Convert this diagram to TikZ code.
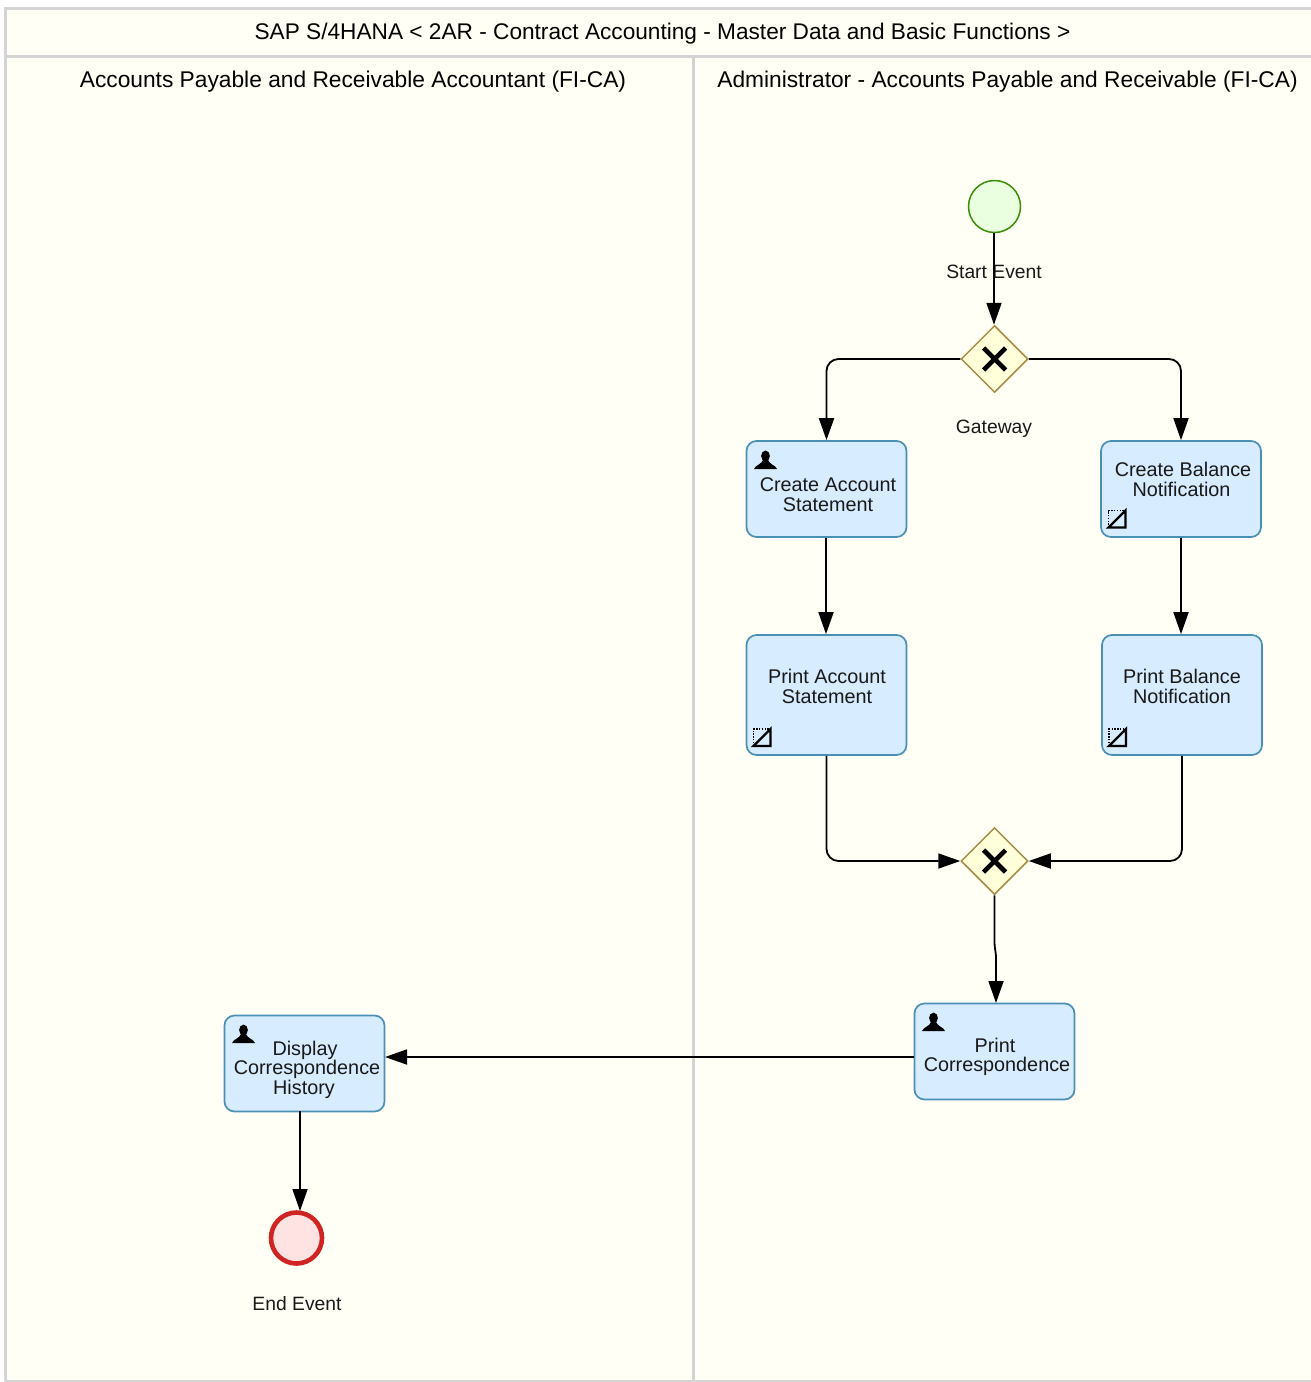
\documentclass[tikz,border=0pt]{standalone}
\usepackage{fontspec}
\setmainfont{Liberation Sans}
\usetikzlibrary{arrows.meta,shapes.geometric,calc}
\definecolor{pagebg}{HTML}{FFFFF6}
\definecolor{lanegray}{HTML}{D4D4D4}
\definecolor{taskfill}{HTML}{D7ECFE}
\definecolor{taskline}{HTML}{4A90B5}
\definecolor{gwfill}{HTML}{FFFFDA}
\definecolor{gwline}{HTML}{A68B45}
\definecolor{startfill}{HTML}{E9FFDF}
\definecolor{startline}{HTML}{3C8C08}
\definecolor{endfill}{HTML}{FFE3E3}
\definecolor{endline}{HTML}{D02424}
\tikzset{
  x=1pt,y=-1pt,
  lane/.style={draw=lanegray,line width=3pt,fill=pagebg},
  head/.style={font=\fontsize{22.65}{26}\selectfont,inner sep=0pt},
  lanehead/.style={font=\fontsize{22.75}{26}\selectfont,inner sep=0pt},
  task/.style={draw=taskline,line width=1.7pt,fill=taskfill,rounded corners=10pt,minimum width=160pt,inner sep=0pt},
  tasktext/.style={font=\fontsize{19.8}{19.6}\selectfont,align=center,inner sep=0pt,text=black!90},
  evlabel/.style={font=\fontsize{19.3}{22}\selectfont,inner sep=0pt,text=black!90},
  gateway/.style={diamond,draw=gwline,line width=1.5pt,fill=gwfill,minimum width=67pt,minimum height=67pt,inner sep=0pt},
  flow/.style={draw=black,line width=1.8pt,rounded corners=12pt,-{Triangle[length=22pt,width=15pt]}},
  usericon/.pic={\fill[black] (0,-4) ellipse (4.4 and 5.4);
    \fill[black] (-11.5,9) .. controls (-10,5) and (-4,4.5) .. (-2.5,0) -- (2.5,0) .. controls (4,4.5) and (10,5) .. (11.5,9) -- cycle;},
  manualicon/.pic={\draw[black,line width=1.6pt,dash pattern=on 1.4pt off 1.4pt] (-8.5,8.5) -- (-8.5,-8.5) -- (8.5,-8.5);
    \draw[black,line width=2.4pt] (-8.5,8.5) -- (8.5,8.5) -- (8.5,-8.5) -- cycle;},
  xmark/.pic={\draw[black,line width=4.6pt] (-11,-11) -- (11,11) (-11,11) -- (11,-11);}
}
\begin{document}
\begin{tikzpicture}
\useasboundingbox (0,0) rectangle (1311,1382);
\fill[white] (0,0) rectangle (1311,1382);
\draw[lane] (5.5,8.5) rectangle (1312,56);
\draw[lane] (5.5,56) rectangle (693.5,1381.5);
\draw[lane] (693.5,56) rectangle (1312,1381.5);
\node[head] (title) at (662.5,33.5) {SAP S/4HANA < 2AR - Contract Accounting - Master Data and Basic Functions >};
\node[lanehead] (laneL) at (353,81.5) {Accounts Payable and Receivable Accountant (FI-CA)};
\node[lanehead] (laneR) at (1007.5,81.5) {Administrator - Accounts Payable and Receivable (FI-CA)};

\node[circle,draw=startline,line width=1.5pt,fill=startfill,minimum size=52pt,inner sep=0pt] (start) at (994.5,206.5) {};
\node[gateway] (gw1) at (994.5,359) {};
\pic at (gw1.center) {xmark};
\node[gateway] (gw2) at (994.5,861) {};
\pic at (gw2.center) {xmark};
\node[task,minimum height=96pt] (t1) at (826.5,489) {};
\node[task,minimum height=96pt] (t2) at (1181,489) {};
\node[task,minimum height=120pt] (t3) at (826.5,695) {};
\node[task,minimum height=120pt] (t4) at (1182,695) {};
\node[task,minimum height=96pt] (t5) at (994.5,1051.5) {};
\node[task,minimum height=96pt] (t6) at (304.5,1063.5) {};
\node[circle,draw=endline,line width=4.6pt,fill=endfill,minimum size=51pt,inner sep=0pt] (end) at (296.5,1238) {};

\pic at (765.5,460) {usericon};
\pic at (933.5,1022) {usericon};
\pic at (243.5,1034) {usericon};
\pic at (1117,519) {manualicon};
\pic at (762,737.5) {manualicon};
\pic at (1117.5,737.5) {manualicon};

\node[tasktext] (t1t) at (828,494.5) {Create Account\\Statement};
\node[tasktext] (t2t) at (1183,479.5) {Create Balance\\\kern-3pt Notification};
\node[tasktext] (t3t) at (827,686.5) {Print Account\\Statement};
\node[tasktext] (t4t) at (1182,686.5) {Print Balance\\Notification};
\node[tasktext] (t5t) at (997,1057) {Print\kern4pt\\Correspondence};
\node[tasktext] (t6t) at (307,1069.5) {Display\kern4pt\\Correspondence\\History\kern6pt};
\node[evlabel] (startl) at (994,271.5) {Start Event};
\node[evlabel] (gwl) at (994,429) {Gateway};
\node[evlabel] (endl) at (297,1303.5) {End Event};

\coordinate (t5in) at (996,1003);
\coordinate (t6out) at (300,1111);
\coordinate (endin) at (300,1211);
\coordinate (t5out) at (914,1057);
\coordinate (t6in) at (385,1057);

\draw[flow] ([xshift=-.5pt]start.south) -- ([xshift=-.5pt]gw1.north);
\draw[flow] (gw1.west) -| (t1.north);
\draw[flow] (gw1.east) -| (t2.north);
\draw[flow] ([xshift=-.5pt]t1.south) -- ([xshift=-.5pt]t3.north);
\draw[flow] (t2.south) -- (t4.north -| t2.south);
\draw[flow] (t3.south) |- (gw2.west);
\draw[flow] (t4.south) |- (gw2.east);
\draw[flow,rounded corners=3pt] (gw2.south) -- (994.5,945) -- (996,955) -- (t5in);
\draw[flow] (t5out) -- (t6in);
\draw[flow] (t6out) -- (endin);
\end{tikzpicture}
\end{document}
